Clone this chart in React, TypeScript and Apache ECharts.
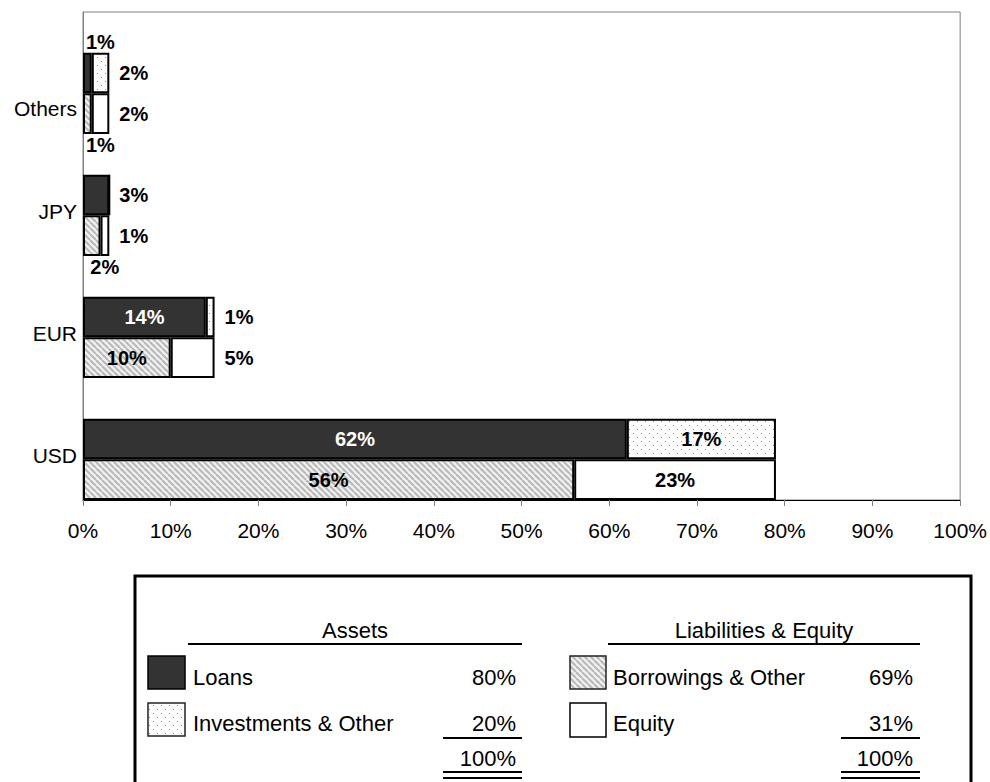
import React, { useEffect, useRef } from 'react';
import * as echarts from 'echarts';

const categories = ['USD', 'EUR', 'JPY', 'Others'];
const loans = [62, 14, 3, 1];
const investments = [17, 1, 0, 2];
const borrowings = [56, 10, 2, 1];
const equity = [23, 5, 1, 2];
const assetNames = ['Loans', 'Investments & Other'];
const liabNames = ['Borrowings & Other', 'Equity'];

const FONT = '"Liberation Sans", Arial, Helvetica, sans-serif';
const FS = 21;
const LFS = 22;

function makeDots(): HTMLCanvasElement {
  const c = document.createElement('canvas');
  c.width = 8;
  c.height = 8;
  const g = c.getContext('2d')!;
  g.fillStyle = '#ffffff';
  g.fillRect(0, 0, 8, 8);
  g.fillStyle = '#8c8c8c';
  g.fillRect(1, 1, 1, 1);
  g.fillRect(5, 5, 1, 1);
  return c;
}

function makeHatch(): HTMLCanvasElement {
  const s = 6;
  const c = document.createElement('canvas');
  c.width = s;
  c.height = s;
  const g = c.getContext('2d')!;
  g.fillStyle = '#f0f0f0';
  g.fillRect(0, 0, s, s);
  g.strokeStyle = '#b8b8b8';
  g.lineWidth = 2;
  for (const k of [-1, 0, 1]) {
    g.beginPath();
    g.moveTo(k * s, 0);
    g.lineTo(k * s + s, s);
    g.stroke();
  }
  return c;
}

const sum = (a: number[]) => a.reduce((p, v) => p + v, 0);

function segData(values: number[], partner: number[], first: boolean, side: 'top' | 'bottom', insideColor: string) {
  return values.map((v, i) => {
    const last = first ? partner[i] === 0 : true;
    let label: any;
    if (v === 0) label = { show: false };
    else if (v >= 8) label = { show: true, position: 'inside', color: insideColor };
    else if (last) label = { show: true, position: 'right', distance: 10, color: '#000' };
    else label = { show: true, position: side, distance: 1, offset: [13, 0], color: '#000' };
    return { value: v, label };
  });
}

export default function App() {
  const ref = useRef<HTMLDivElement>(null);
  useEffect(() => {
    if (!ref.current) return;
    const chart = echarts.init(ref.current, null, { renderer: 'svg' });
    const dots = makeDots();
    const hatch = makeHatch();
    const dotPattern: any = { image: dots, repeat: 'repeat', imageWidth: 8, imageHeight: 8 };
    const hatchPattern: any = { image: hatch, repeat: 'repeat', imageWidth: 6, imageHeight: 6 };

    const barCommon: any = {
      type: 'bar',
      barGap: '0%',
      barCategoryGap: '0%',
      itemStyle: { borderColor: '#000', borderWidth: 2 },
      label: { fontFamily: FONT, fontSize: 20, fontWeight: 'bold', formatter: '{c}%' },
    };

    const totals = {
      loans: sum(loans),
      inv: sum(investments),
      bor: sum(borrowings),
      eq: sum(equity),
    };
    const assetTotal = totals.loans + totals.inv;
    const liabTotal = totals.bor + totals.eq;

    const txt = (text: string, x: number, y: number, align: string = 'left') => ({
      type: 'text',
      x,
      y,
      style: { text, fontFamily: FONT, fontSize: LFS, fill: '#000', align, verticalAlign: 'middle' },
    });
    const ln = (x1: number, x2: number, y: number, w = 2) => ({
      type: 'line',
      shape: { x1, y1: y, x2, y2: y },
      style: { stroke: '#000', lineWidth: w },
    });

    const graphics: any[] = [
      { type: 'rect', shape: { x: 135, y: 576, width: 836, height: 240 }, style: { fill: 'none', stroke: '#000', lineWidth: 3 } },
      // Assets block
      txt('Assets', 355, 630, 'center'),
      ln(188, 522, 644),
      { type: 'rect', shape: { x: 148, y: 656, width: 37, height: 33 }, style: { fill: '#333333', stroke: '#000', lineWidth: 1.5 } },
      txt(assetNames[0], 193, 677),
      txt(`${totals.loans}%`, 516, 677, 'right'),
      { type: 'rect', shape: { x: 148, y: 703, width: 37, height: 33 }, style: { fill: dotPattern, stroke: '#222', lineWidth: 1.5 } },
      txt(assetNames[1], 193, 723),
      txt(`${totals.inv}%`, 516, 723, 'right'),
      ln(443, 522, 738),
      txt(`${assetTotal}%`, 516, 758, 'right'),
      ln(443, 522, 772),
      ln(443, 522, 778),
      // Liabilities block
      txt('Liabilities & Equity', 764, 630, 'center'),
      ln(608, 920, 644),
      { type: 'rect', shape: { x: 570, y: 656, width: 36, height: 33 }, style: { fill: hatchPattern, stroke: '#222', lineWidth: 1.5 } },
      txt(liabNames[0], 613, 677),
      txt(`${totals.bor}%`, 913, 677, 'right'),
      { type: 'rect', shape: { x: 570, y: 703, width: 36, height: 34 }, style: { fill: '#fff', stroke: '#000', lineWidth: 1.5 } },
      txt(liabNames[1], 613, 723),
      txt(`${totals.eq}%`, 913, 723, 'right'),
      ln(841, 920, 738),
      txt(`${liabTotal}%`, 913, 758, 'right'),
      ln(841, 920, 772),
      ln(841, 920, 778),
    ];

    chart.setOption({
      animation: false,
      grid: {
        left: 83,
        right: 27,
        top: 12,
        bottom: 282,
        show: true,
        borderColor: '#808080',
        borderWidth: 1,
        backgroundColor: 'transparent',
      },
      xAxis: {
        type: 'value',
        min: 0,
        max: 100,
        interval: 10,
        axisLine: { show: true, lineStyle: { color: '#000', width: 1 } },
        axisTick: { show: true, length: 6, lineStyle: { color: '#808080' } },
        splitLine: { show: false },
        axisLabel: { formatter: '{value}%', fontFamily: FONT, fontSize: FS, color: '#000', margin: 20 },
      },
      yAxis: {
        type: 'category',
        data: categories,
        axisLine: { show: true, lineStyle: { color: '#808080', width: 1 } },
        axisTick: { show: false },
        axisLabel: {
          fontFamily: FONT,
          fontSize: FS,
          color: '#000',
          margin: 6,
          formatter: (v: string) => (v === 'Others' ? `{o|${v}}` : `{n|${v}}`),
          rich: {
            n: { fontFamily: FONT, fontSize: FS, color: '#000', padding: [32, 0, 0, 0] },
            o: { fontFamily: FONT, fontSize: FS, color: '#000', padding: [70, 0, 0, 0] },
          },
        },
      },
      series: [
        { ...barCommon, name: 'pad', stack: 'pad', data: categories.map(() => null), itemStyle: { opacity: 0 } },
        {
          ...barCommon,
          name: assetNames[0],
          stack: 'assets',
          itemStyle: { ...barCommon.itemStyle, color: '#333333' },
          data: segData(loans, investments, true, 'top', '#fff'),
        },
        {
          ...barCommon,
          name: assetNames[1],
          stack: 'assets',
          itemStyle: { ...barCommon.itemStyle, color: dotPattern },
          data: segData(investments, loans, false, 'top', '#000'),
        },
        {
          ...barCommon,
          name: liabNames[0],
          stack: 'liab',
          itemStyle: { ...barCommon.itemStyle, color: hatchPattern },
          data: segData(borrowings, equity, true, 'bottom', '#000'),
        },
        {
          ...barCommon,
          name: liabNames[1],
          stack: 'liab',
          itemStyle: { ...barCommon.itemStyle, color: '#ffffff' },
          data: segData(equity, borrowings, false, 'bottom', '#000'),
        },
      ],
      graphic: graphics,
    });
    return () => chart.dispose();
  }, []);
  return <div ref={ref} style={{ position: 'absolute', left: 0, top: 0, width: 990, height: 782 }} />;
}
